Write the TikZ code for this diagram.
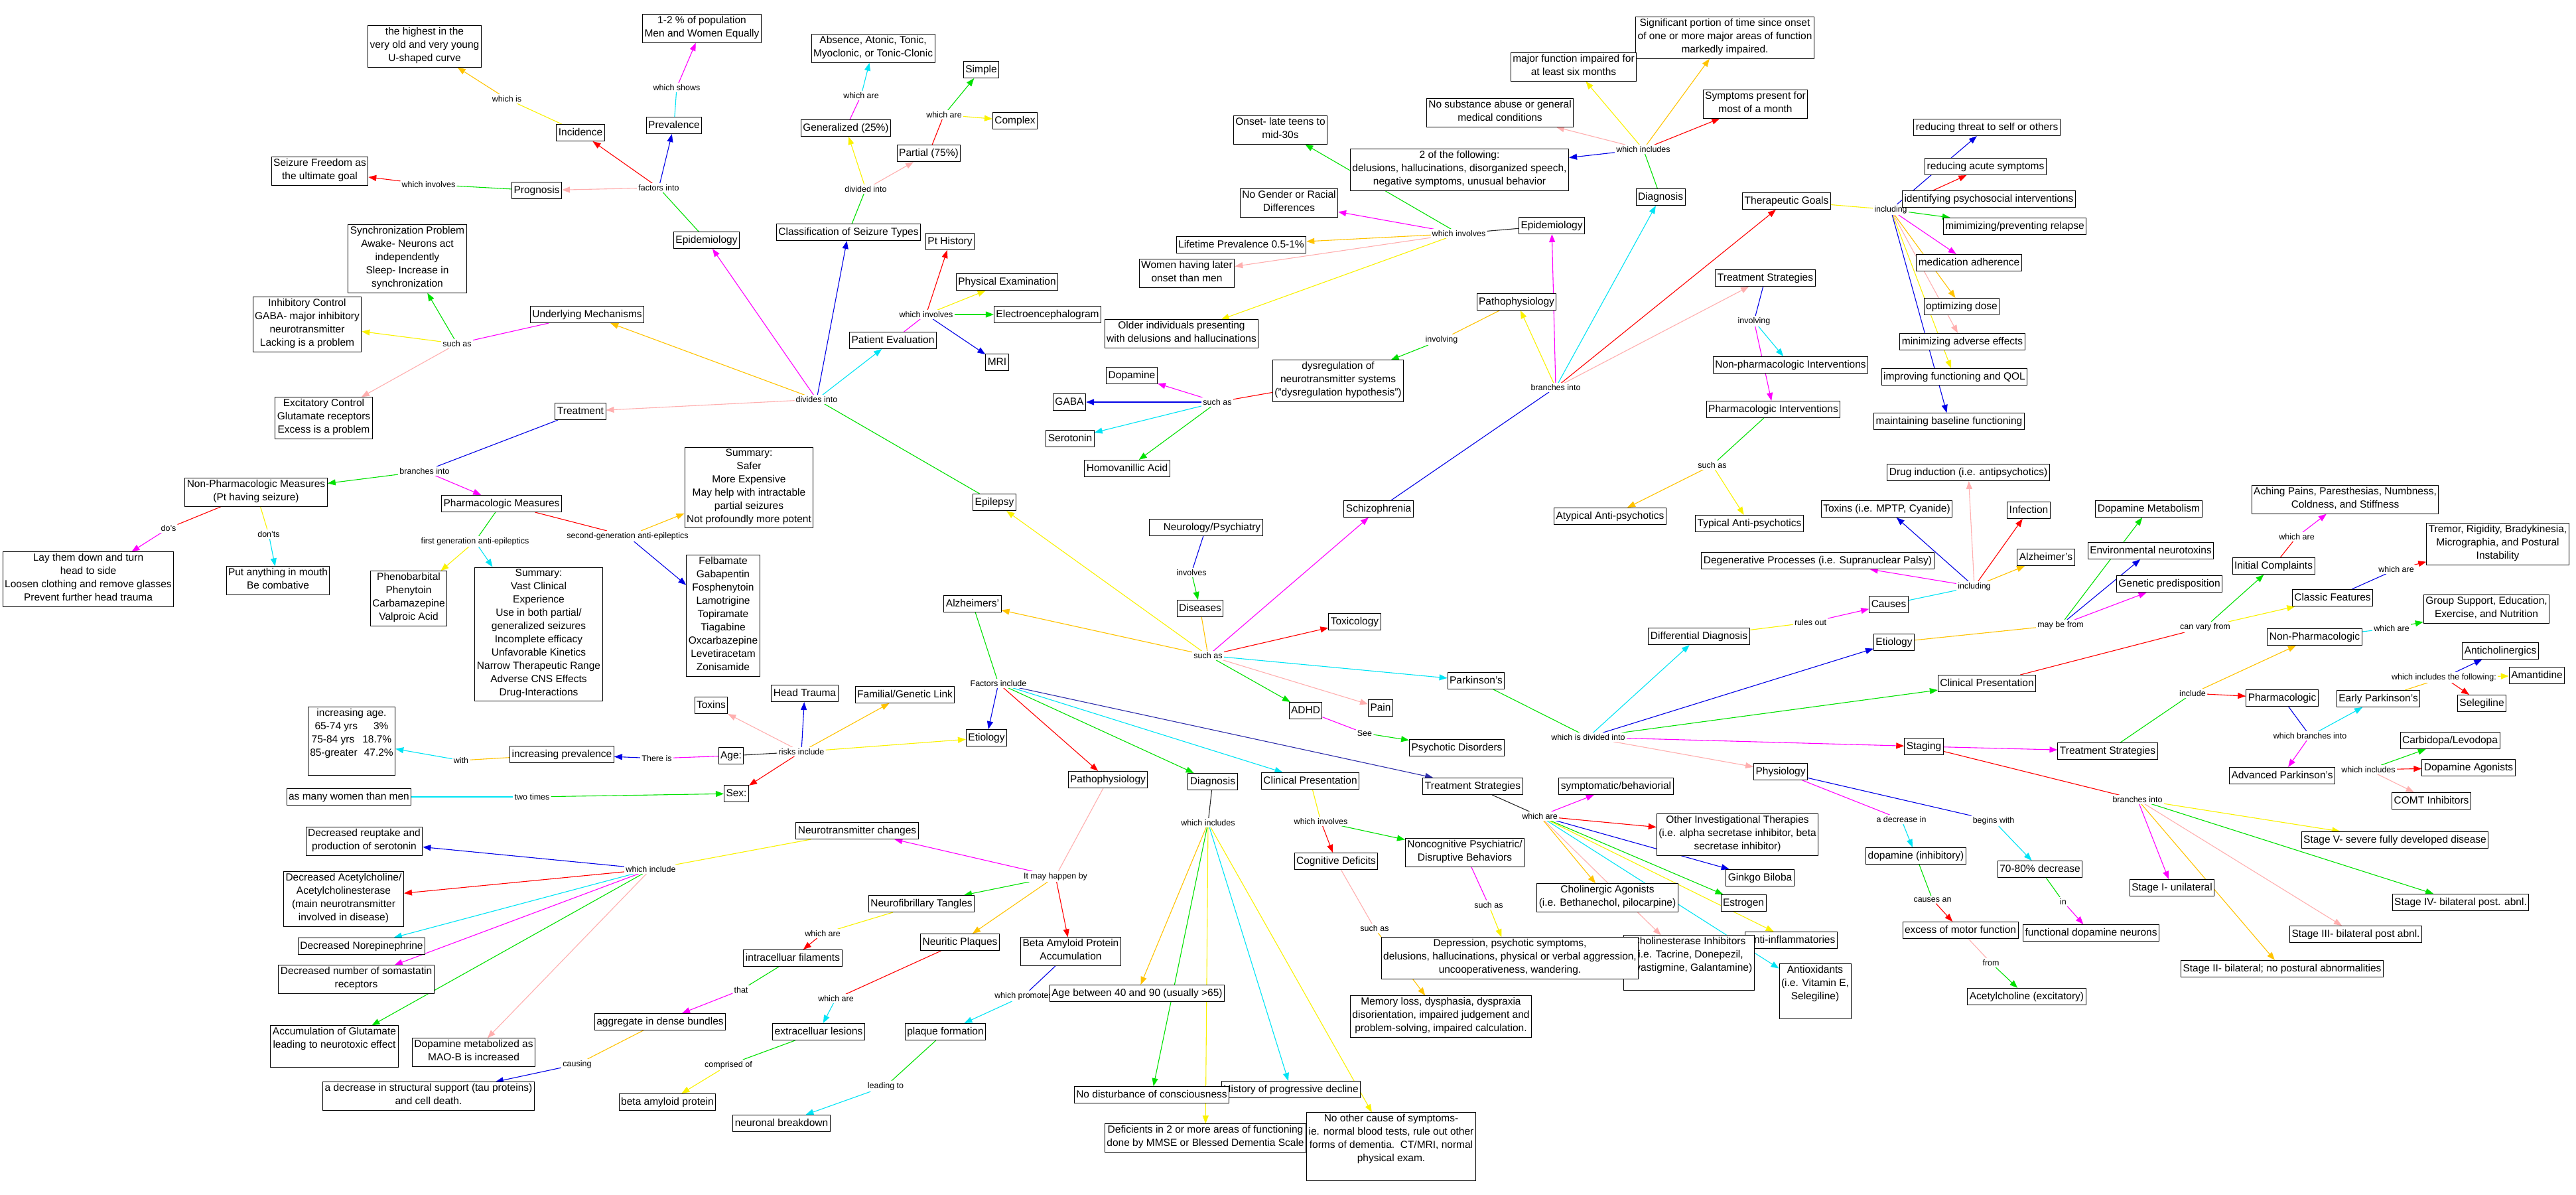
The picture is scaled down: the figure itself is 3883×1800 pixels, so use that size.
\documentclass[tikz,border=0pt]{standalone}
\usepackage{fontspec}
\setmainfont{Liberation Sans}
\usetikzlibrary{arrows.meta}
\pgfdeclarelayer{back}\pgfdeclarelayer{bg}
\pgfsetlayers{back,bg,main}
\newcommand\fsbox{\fontsize{15.5}{20}\selectfont}
\newcommand\fslab{\fontsize{12.5}{14}\selectfont}
\definecolor{cR}{RGB}{255,0,0}
\definecolor{cG}{RGB}{0,225,0}
\definecolor{cB}{RGB}{0,0,230}
\definecolor{cNv}{RGB}{45,45,170}
\definecolor{cC}{RGB}{0,228,245}
\definecolor{cM}{RGB}{255,0,255}
\definecolor{cY}{RGB}{250,242,0}
\definecolor{cO}{RGB}{255,195,0}
\definecolor{cP}{RGB}{255,175,175}
\definecolor{cK}{RGB}{40,40,40}
\begin{document}
\begin{tikzpicture}[x=1pt,y=-1pt,
 bx/.style={draw=black,line width=1pt,fill=white,align=center,font=\fsbox,inner xsep=3pt,inner ysep=2.5pt,execute at begin node=\strut,execute at end node=\strut},
 lb/.style={font=\fslab,inner sep=2pt,fill=white},
 ln/.style={draw=#1,line width=1.1pt},
 ar/.style={draw=#1,line width=1.1pt,-{Triangle[length=12pt,width=9pt]}}]
\begin{pgfonlayer}{back}
\fill[white] (0,0) rectangle (3883,1800);
\end{pgfonlayer}
\useasboundingbox (0,0) rectangle (3883,1800);
% ---------- labels ----------
\node[lb] (lWhichIs) at (764,149) {which is};
\node[lb] (lFact) at (993,283) {factors into};
\node[lb] (lShows) at (1020,132) {which shows};
\node[lb] (lGenAre) at (1298,144) {which are};
\node[lb] (lPartAre) at (1423,173) {which are};
\node[lb] (lDivided) at (1305,285) {divided into};
\node[lb] (lProgInv) at (646,278) {which involves};
\node[lb] (lPevInv) at (1396,474) {which involves};
\node[lb] (lUndSuch) at (689,518) {such as};
\node[lb] (lDivides) at (1231,602) {divides into};
\node[lb] (lTrtBr) at (640,710) {branches into};
\node[lb] (lDos) at (254,796) {do's};
\node[lb] (lDonts) at (405,805) {don'ts};
\node[lb] (lFirst) at (716,816) {first generation anti-epileptics};
\node[lb] (lSecond) at (946,808) {second-generation anti-epileptics};
\node[lb] (lDysSuch) at (1835,606) {such as};
\node[lb] (lEpiSInv) at (2199,352) {which involves};
\node[lb] (lDiagSInc) at (2477,225) {which includes};
\node[lb] (lIncl) at (2850,316) {including};
\node[lb] (lPatSInv) at (2173,512) {involving};
\node[lb] (lTsSInv) at (2644,484) {involving};
\node[lb] (lSchBr) at (2345,584) {branches into};
\node[lb] (lPhiSuch) at (2581,701) {such as};
\node[lb] (lInvolves) at (1796,863) {involves};
\node[lb] (lDisSuch) at (1821,988) {such as};
\node[lb] (lFactInc) at (1505,1030) {Factors include};
\node[lb] (lRisks) at (1208,1133) {risks include};
\node[lb] (lThere) at (990,1143) {There is};
\node[lb] (lWith) at (695,1146) {with};
\node[lb] (lTwo) at (802,1201) {two times};
\node[lb] (lSee) at (2057,1105) {See};
\node[lb] (lDivInto) at (2394,1111) {which is divided into};
\node[lb] (lRules) at (2729,938) {rules out};
\node[lb] (lCausInc) at (2976,884) {including};
\node[lb] (lMay) at (3106,942) {may be from};
\node[lb] (lVary) at (3324,945) {can vary from};
\node[lb] (lInitAre) at (3462,809) {which are};
\node[lb] (lClasAre) at (3612,858) {which are};
\node[lb] (lNpAre) at (3605,947) {which are};
\node[lb] (lFollow) at (3684,1021) {which includes the following:};
\node[lb] (lInclude) at (3305,1045) {include};
\node[lb] (lWBr) at (3482,1109) {which branches into};
\node[lb] (lAdvInc) at (3570,1160) {which includes};
\node[lb] (lNtcInc) at (981,1310) {which include};
\node[lb] (lMay2) at (1591,1321) {It may happen by};
\node[lb] (lNftAre) at (1240,1407) {which are};
\node[lb] (lThat) at (1117,1492) {that};
\node[lb] (lNpAre2) at (1260,1505) {which are};
\node[lb] (lProm) at (1543,1501) {which promotes};
\node[lb] (lCaus) at (870,1604) {causing};
\node[lb] (lComp) at (1098,1605) {comprised of};
\node[lb] (lLead) at (1335,1637) {leading to};
\node[lb] (lDiagAInc) at (1821,1240) {which includes};
\node[lb] (lCpAInv) at (1991,1238) {which involves};
\node[lb] (lTsAAre) at (2321,1230) {which are};
\node[lb] (lNcogSuch) at (2244,1364) {such as};
\node[lb] (lCogSuch) at (2072,1399) {such as};
\node[lb] (lDecIn) at (2866,1235) {a decrease in};
\node[lb] (lBegins) at (3005,1237) {begins with};
\node[lb] (lCauses) at (2913,1356) {causes an};
\node[lb] (lFrom) at (3001,1451) {from};
\node[lb] (lIn) at (3110,1359) {in};
\node[lb] (lStBr) at (3222,1205) {branches into};
% ---------- Epilepsy boxes ----------
\node[bx] (hi) at (640,70) {the highest in the\\very old and very young\\U-shaped curve};
\node[bx] (pop) at (1058,43) {1-2 \% of population\\Men and Women Equally};
\node[bx] (absn) at (1316,73) {Absence, Atonic, Tonic,\\Myoclonic, or Tonic-Clonic};
\node[bx] (simp) at (1479,105) {Simple};
\node[bx] (cplx) at (1530,182) {Complex};
\node[bx] (gen) at (1275,193) {Generalized (25\%)};
\node[bx] (part) at (1400,231) {Partial (75\%)};
\node[bx] (inc) at (875,200) {Incidence};
\node[bx] (prev) at (1016,189) {Prevalence};
\node[bx] (szf) at (482,258) {Seizure Freedom as\\the ultimate goal};
\node[bx] (prog) at (809,287) {Prognosis};
\node[bx] (epiE) at (1065,362) {Epidemiology};
\node[bx] (cls) at (1279,350) {Classification of Seizure Types};
\node[bx] (pth) at (1432,364) {Pt History};
\node[bx] (phx) at (1518,425) {Physical Examination};
\node[bx] (eeg) at (1579,474) {Electroencephalogram};
\node[bx] (pev) at (1346,513) {Patient Evaluation};
\node[bx] (mri) at (1503,546) {MRI};
\node[bx] (syn) at (614,390) {Synchronization Problem\\Awake- Neurons act\\independently\\Sleep- Increase in\\synchronization};
\node[bx] (inh) at (463,489) {Inhibitory Control\\GABA- major inhibitory\\neurotransmitter\\Lacking is a problem};
\node[bx] (und) at (885,474) {Underlying Mechanisms};
\node[bx] (exc) at (488,630) {Excitatory Control\\Glutamate receptors\\Excess is a problem};
\node[bx] (trt) at (875,620) {Treatment};
\node[bx] (npm) at (386,742) {Non-Pharmacologic Measures\\(Pt having seizure)};
\node[bx] (pm) at (756,759) {Pharmacologic Measures};
\node[bx] (lay) at (133,873) {Lay them down and turn\\head to side\\Loosen clothing and remove glasses\\Prevent further head trauma};
\node[bx] (put) at (419,875) {Put anything in mouth\\Be combative};
\node[bx] (phen) at (616,902) {Phenobarbital\\Phenytoin\\Carbamazepine\\Valproic Acid};
\node[bx] (sumv) at (812,956) {Summary:\\Vast Clinical\\Experience\\Use in both partial/\\generalized seizures\\Incomplete efficacy\\Unfavorable Kinetics\\Narrow Therapeutic Range\\Adverse CNS Effects\\Drug-Interactions};
\node[bx] (sums) at (1129,735) {Summary:\\Safer\\More Expensive\\May help with intractable\\partial seizures\\Not profoundly more potent};
\node[bx] (felb) at (1090,928) {Felbamate\\Gabapentin\\Fosphenytoin\\Lamotrigine\\Topiramate\\Tiagabine\\Oxcarbazepine\\Levetiracetam\\Zonisamide};
\node[bx] (epil) at (1499,757) {Epilepsy};
% ---------- centre ----------
\node[bx] (neu) at (1818,795) {\hspace*{18pt}Neurology/Psychiatry};
\node[bx] (dis) at (1809,917) {Diseases};
\node[bx] (alz) at (1466,910) {Alzheimers'};
\node[bx] (sch) at (2078,767) {Schizophrenia};
\node[bx] (tox) at (2042,937) {Toxicology};
\node[bx] (park) at (2225,1026) {Parkinson's};
\node[bx] (pain) at (2081,1067) {Pain};
\node[bx] (adhd) at (1968,1071) {ADHD};
\node[bx] (psy) at (2196,1127) {Psychotic Disorders};
% ---------- Schizophrenia ----------
\node[bx] (onset) at (1930,196) {Onset- late teens to\\mid-30s};
\node[bx] (nogen) at (1943,306) {No Gender or Racial\\Differences};
\node[bx] (life) at (1871,369) {Lifetime Prevalence 0.5-1\%};
\node[bx] (women) at (1789,412) {Women having later\\onset than men};
\node[bx] (older) at (1781,503) {Older individuals presenting\\with delusions and hallucinations};
\node[bx] (dopa) at (1706,566) {Dopamine};
\node[bx] (gaba) at (1612,606) {GABA};
\node[bx] (sero) at (1613,661) {Serotonin};
\node[bx] (hva) at (1699,706) {Homovanillic Acid};
\node[bx] (dysr) at (2017,574) {dysregulation of\\neurotransmitter systems\\("dysregulation hypothesis")};
\node[bx] (sig) at (2600,57) {Significant portion of time since onset\\of one or more major areas of function\\markedly impaired.};
\node[bx] (majf) at (2372,101) {major function impaired for\\at least six months};
\node[bx] (nosub) at (2261,170) {No substance abuse or general\\medical conditions};
\node[bx] (symp) at (2646,157) {Symptoms present for\\most of a month};
\node[bx] (twoof) at (2200,256) {2 of the following:\\delusions, hallucinations, disorganized speech,\\negative symptoms, unusual behavior};
\node[bx] (diagS) at (2503,297) {Diagnosis};
\node[bx] (tg) at (2693,303) {Therapeutic Goals};
\node[bx] (epiS) at (2339,340) {Epidemiology};
\node[bx] (tsS) at (2661,419) {Treatment Strategies};
\node[bx] (patS) at (2286,455) {Pathophysiology};
\node[bx] (npi) at (2699,550) {Non-pharmacologic Interventions};
\node[bx] (phi) at (2673,617) {Pharmacologic Interventions};
\node[bx] (atyp) at (2427,778) {Atypical Anti-psychotics};
\node[bx] (typ) at (2637,789) {Typical Anti-psychotics};
\node[bx] (rthr) at (2995,192) {reducing threat to self or others};
\node[bx] (racu) at (2993,251) {reducing acute symptoms};
\node[bx] (ident) at (2998,300) {identifying psychosocial interventions};
\node[bx] (mrel) at (3037,341) {mimimizing/preventing relapse};
\node[bx] (madh) at (2968,396) {medication adherence};
\node[bx] (odose) at (2957,462) {optimizing dose};
\node[bx] (madv) at (2958,515) {minimizing adverse effects};
\node[bx] (qol) at (2946,568) {improving functioning and QOL};
\node[bx] (mbase) at (2938,635) {maintaining baseline functioning};
% ---------- Parkinson's ----------
\node[bx] (toxP) at (2844,767) {Toxins (i.e. MPTP, Cyanide)};
\node[bx] (degP) at (2740,845) {Degenerative Processes (i.e. Supranuclear Palsy)};
\node[bx] (drugP) at (2967,712) {Drug induction (i.e. antipsychotics)};
\node[bx] (infP) at (3058,769) {Infection};
\node[bx] (alzP) at (3084,840) {Alzheimer's};
\node[bx] (dmet) at (3239,767) {Dopamine Metabolism};
\node[bx] (envn) at (3242,830) {Environmental neurotoxins};
\node[bx] (genp) at (3270,880) {Genetic predisposition};
\node[bx] (ddx) at (2561,959) {Differential Diagnosis};
\node[bx] (causes) at (2847,911) {Causes};
\node[bx] (etP) at (2855,968) {Etiology};
\node[bx] (cpP) at (2995,1030) {Clinical Presentation};
\node[bx] (ache) at (3535,753) {Aching Pains, Paresthesias, Numbness,\\Coldness, and Stiffness};
\node[bx] (initc) at (3427,853) {Initial Complaints};
\node[bx] (trem) at (3765,820) {Tremor, Rigidity, Bradykinesia,\\Micrographia, and Postural\\Instability};
\node[bx] (clas) at (3516,901) {Classic Features};
\node[bx] (grp) at (3748,918) {Group Support, Education,\\Exercise, and Nutrition};
\node[bx] (npP) at (3489,960) {Non-Pharmacologic};
\node[bx] (antic) at (3769,981) {Anticholinergics};
\node[bx] (amant) at (3824,1018) {Amantidine};
\node[bx] (seleg) at (3741,1060) {Selegiline};
\node[bx] (phP) at (3440,1052) {Pharmacologic};
\node[bx] (early) at (3585,1053) {Early Parkinson's};
\node[bx] (carb) at (3693,1116) {Carbidopa/Levodopa};
\node[bx] (tsP) at (3177,1132) {Treatment Strategies};
\node[bx] (dago) at (3721,1157) {Dopamine Agonists};
\node[bx] (adv) at (3440,1169) {Advanced Parkinson's};
\node[bx] (comt) at (3665,1207) {COMT Inhibitors};
\node[bx] (stag) at (2900,1125) {Staging};
\node[bx] (phys) at (2684,1163) {Physiology};
\node[bx] (dopi) at (2888,1290) {dopamine (inhibitory)};
\node[bx] (exm) at (2955,1402) {excess of motor function};
\node[bx] (ach) at (3055,1502) {Acetylcholine (excitatory)};
\node[bx] (dec) at (3075,1310) {70-80\% decrease};
\node[bx] (fdn) at (3152,1406) {functional dopamine neurons};
\node[bx] (st5) at (3610,1266) {Stage V- severe fully developed disease};
\node[bx] (st1) at (3274,1338) {Stage I- unilateral};
\node[bx] (st4) at (3709,1360) {Stage IV- bilateral post. abnl.};
\node[bx] (st3) at (3551,1408) {Stage III- bilateral post abnl.};
\node[bx] (st2) at (3440,1460) {Stage II- bilateral; no postural abnormalities};
% ---------- Alzheimer's ----------
\node[bx] (toxA) at (1072,1063) {Toxins};
\node[bx] (htr) at (1213,1045) {Head Trauma};
\node[bx] (fam) at (1364,1047) {Familial/Genetic Link};
\node[bx] (etA) at (1487,1112) {Etiology};
\node[bx] (age) at (1102,1139) {Age:};
\node[bx] (sex) at (1110,1196) {Sex:};
\node[bx] (incp) at (847,1137) {increasing prevalence};
\node[bx] (incage) at (530,1117) {increasing age.\\65-74 yrs\hspace{24pt}3\%\\75-84 yrs\hspace{12pt}18.7\%\\85-greater\hspace{10pt}47.2\%\\};
\node[bx] (women2) at (526,1201) {as many women than men};
\node[bx] (patA) at (1670,1175) {Pathophysiology};
\node[bx] (diagA) at (1828,1178) {Diagnosis};
\node[bx] (cpA) at (1975,1177) {Clinical Presentation};
\node[bx] (tsA) at (2220,1185) {Treatment Strategies};
\node[bx] (symb) at (2436,1185) {symptomatic/behaviorial};
\node[bx] (ntc) at (1292,1252) {Neurotransmitter changes};
\node[bx] (dre) at (549,1268) {Decreased reuptake and\\production of serotonin};
\node[bx] (dach) at (518,1355) {Decreased Acetylcholine/\\Acetylcholinesterase\\(main neurotransmitter\\involved in disease)};
\node[bx] (dnor) at (545,1426) {Decreased Norepinephrine};
\node[bx] (dsom) at (537,1476) {Decreased number of somastatin\\receptors};
\node[bx] (glu) at (504,1577) {Accumulation of Glutamate\\leading to neurotoxic effect\\};
\node[bx] (dmao) at (714,1586) {Dopamine metabolized as\\MAO-B is increased};
\node[bx] (agg) at (995,1540) {aggregate in dense bundles};
\node[bx] (dstr) at (646,1652) {a decrease in structural support (tau proteins)\\and cell death.};
\node[bx] (bap) at (1006,1661) {beta amyloid protein};
\node[bx] (nft) at (1389,1362) {Neurofibrillary Tangles};
\node[bx] (icf) at (1195,1444) {intracelluar filaments};
\node[bx] (np) at (1447,1420) {Neuritic Plaques};
\node[bx] (bapa) at (1614,1434) {Beta Amyloid Protein\\Accumulation};
\node[bx] (ecl) at (1234,1555) {extracelluar lesions};
\node[bx] (plq) at (1425,1555) {plaque formation};
\node[bx] (nbd) at (1178,1693) {neuronal breakdown};
\node[bx] (agebt) at (1714,1497) {Age between 40 and 90 (usually >65)};
\node[bx] (hist) at (1946,1642) {History of progressive decline};
\node[bx] (nodist) at (1736,1650) {No disturbance of consciousness};
\node[bx] (defi) at (1817,1715) {Deficients in 2 or more areas of functioning\\done by MMSE or Blessed Dementia Scale};
\node[bx] (noth) at (2097,1728) {No other cause of symptoms-\\ie. normal blood tests, rule out other\\forms of dementia.\ \ CT/MRI, normal\\physical exam.\\};
\node[bx] (cogd) at (2014,1298) {Cognitive Deficits};
\node[bx] (ncog) at (2208,1285) {Noncognitive Psychiatric/\\Disruptive Behaviors};
\node[bx] (oith) at (2619,1258) {Other Investigational Therapies\\(i.e. alpha secretase inhibitor, beta\\secretase inhibitor)};
\node[bx] (ginkgo) at (2653,1323) {Ginkgo Biloba};
\node[bx] (estr) at (2628,1361) {Estrogen};
\node[bx] (chag) at (2423,1353) {Cholinergic Agonists\\(i.e. Bethanechol, pilocarpine)};
\node[bx] (antiinf) at (2700,1417) {Anti-inflammatories};
\node[bx] (chin) at (2546,1451) {Cholinesterase Inhibitors\\(i.e. Tacrine, Donepezil,\\Rivastigmine, Galantamine)\\};
\node[bx] (depr) at (2276,1444) {Depression, psychotic symptoms,\\delusions, hallucinations, physical or verbal aggression,\\uncooperativeness, wandering.};
\node[bx] (antiox) at (2736,1494) {Antioxidants\\(i.e. Vitamin E,\\Selegiline)\\};
\node[bx] (mem) at (2172,1532) {Memory loss, dysphasia, dyspraxia\\disorientation, impaired judgement and\\problem-solving, impaired calculation.};
% ---------- connectors ----------
\begin{pgfonlayer}{bg}
% epilepsy
\draw[ln=cG] (epil) -- (lDivides);
\draw[ar=cM] (lDivides) -- (epiE);
\draw[ar=cB] (lDivides) -- (cls);
\draw[ar=cC] (lDivides) -- (pev);
\draw[ar=cO] (lDivides) -- (und);
\draw[ar=cP] (lDivides) -- (trt);
\draw[ln=cG] (epiE) -- (lFact);
\draw[ar=cR] (lFact) -- (inc);
\draw[ar=cB] (lFact) -- (prev);
\draw[ar=cP] (lFact) -- (prog);
\draw[ln=cY] (inc) -- (lWhichIs);
\draw[ar=cO] (lWhichIs) -- (hi);
\draw[ln=cC] (prev) -- (lShows);
\draw[ar=cM] (lShows) -- (pop);
\draw[ln=cG] (prog) -- (lProgInv);
\draw[ar=cR] (lProgInv) -- (szf);
\draw[ln=cG] (cls) -- (lDivided);
\draw[ar=cY] (lDivided) -- (gen);
\draw[ar=cP] (lDivided) -- (part);
\draw[ln=cM] (gen) -- (lGenAre);
\draw[ar=cC] (lGenAre) -- (absn);
\draw[ln=cR] (part) -- (lPartAre);
\draw[ar=cG] (lPartAre) -- (simp);
\draw[ar=cY] (lPartAre) -- (cplx);
\draw[ln=cM] (pev) -- (lPevInv);
\draw[ar=cR] (lPevInv) -- (pth);
\draw[ar=cY] (lPevInv) -- (phx);
\draw[ar=cG] (lPevInv) -- (eeg);
\draw[ar=cB] (lPevInv) -- (mri);
\draw[ln=cM] (und) -- (lUndSuch);
\draw[ar=cG] (lUndSuch) -- (syn);
\draw[ar=cY] (lUndSuch) -- (inh);
\draw[ar=cP] (lUndSuch) -- (exc);
\draw[ln=cB] (trt) -- (lTrtBr);
\draw[ar=cG] (lTrtBr) -- (npm);
\draw[ar=cM] (lTrtBr) -- (pm);
\draw[ln=cR] (npm) -- (lDos);
\draw[ar=cM] (lDos) -- (lay);
\draw[ln=cY] (npm) -- (lDonts);
\draw[ar=cC] (lDonts) -- (put);
\draw[ln=cG] (pm) -- (lFirst);
\draw[ar=cY] (lFirst) -- (phen);
\draw[ar=cC] (lFirst) -- (sumv);
\draw[ln=cR] (pm) -- (lSecond);
\draw[ar=cO] (lSecond) -- (sums);
\draw[ar=cB] (lSecond) -- (felb);
% centre
\draw[ln=cB] (neu) -- (lInvolves);
\draw[ar=cG] (lInvolves) -- (dis);
\draw[ln=cO] (dis) -- (lDisSuch);
\draw[ar=cY] (lDisSuch) -- (epil);
\draw[ar=cO] (lDisSuch) -- (alz);
\draw[ar=cM] (lDisSuch) -- (sch);
\draw[ar=cR] (lDisSuch) -- (tox);
\draw[ar=cC] (lDisSuch) -- (park);
\draw[ar=cP] (lDisSuch) -- (pain);
\draw[ar=cG] (lDisSuch) -- (adhd);
\draw[ln=cM] (adhd) -- (lSee);
\draw[ar=cG] (lSee) -- (psy);
% schizophrenia
\draw[ln=cB] (sch) -- (lSchBr);
\draw[ar=cY] (lSchBr) -- (patS);
\draw[ar=cM] (lSchBr) -- (epiS);
\draw[ar=cC] (lSchBr) -- (diagS);
\draw[ar=cR] (lSchBr) -- (tg);
\draw[ar=cP] (lSchBr) -- (tsS);
\draw[ln=cO] (patS) -- (lPatSInv);
\draw[ar=cG] (lPatSInv) -- (dysr);
\draw[ln=cR] (dysr) -- (lDysSuch);
\draw[ar=cM] (lDysSuch) -- (dopa);
\draw[ar=cB] (lDysSuch) -- (gaba);
\draw[ar=cC] (lDysSuch) -- (sero);
\draw[ar=cG] (lDysSuch) -- (hva);
\draw[ln=cK] (epiS) -- (lEpiSInv);
\draw[ar=cG] (lEpiSInv) -- (onset);
\draw[ar=cM] (lEpiSInv) -- (nogen);
\draw[ar=cO] (lEpiSInv) -- (life);
\draw[ar=cP] (lEpiSInv) -- (women);
\draw[ar=cY] (lEpiSInv) -- (older);
\draw[ln=cG] (diagS) -- (lDiagSInc);
\draw[ar=cB] (lDiagSInc) -- (twoof);
\draw[ar=cP] (lDiagSInc) -- (nosub);
\draw[ar=cY] (lDiagSInc) -- (majf);
\draw[ar=cO] (lDiagSInc) -- (sig);
\draw[ar=cR] (lDiagSInc) -- (symp);
\draw[ln=cY] (tg) -- (lIncl);
\draw[ar=cB] (lIncl) -- (rthr);
\draw[ar=cR] (lIncl) -- (racu);
\draw[ar=cG] (lIncl) -- (mrel);
\draw[ar=cM] (lIncl) -- (madh);
\draw[ar=cO] (lIncl) -- (odose);
\draw[ar=cP] (lIncl) -- (madv);
\draw[ar=cY] (lIncl) -- (qol);
\draw[ar=cB] (lIncl) -- (mbase);
\draw[ln=cB] (tsS) -- (lTsSInv);
\draw[ar=cC] (lTsSInv) -- (npi);
\draw[ar=cM] (lTsSInv) -- (phi);
\draw[ln=cG] (phi) -- (lPhiSuch);
\draw[ar=cO] (lPhiSuch) -- (atyp);
\draw[ar=cY] (lPhiSuch) -- (typ);
% parkinson's
\draw[ln=cG] (park) -- (lDivInto);
\draw[ar=cC] (lDivInto) -- (ddx);
\draw[ar=cB] (lDivInto) -- (etP);
\draw[ar=cG] (lDivInto) -- (cpP);
\draw[ln=cM,-{Triangle[length=12pt,width=9pt,color=cR]}] (lDivInto) -- (stag);
\draw[ar=cP] (lDivInto) -- (phys);
\draw[ln=cY] (ddx) -- (lRules);
\draw[ar=cM] (lRules) -- (causes);
\draw[ln=cC] (causes) -- (lCausInc);
\draw[ar=cB] (lCausInc) -- (toxP);
\draw[ar=cP] (lCausInc) -- (drugP);
\draw[ar=cR] (lCausInc) -- (infP);
\draw[ar=cO] (lCausInc) -- (alzP);
\draw[ar=cM] (lCausInc) -- (degP);
\draw[ln=cO] (etP) -- (lMay);
\draw[ar=cG] (lMay) -- (dmet);
\draw[ar=cB] (lMay) -- (envn);
\draw[ar=cM] (lMay) -- (genp);
\draw[ln=cR] (cpP) -- (lVary);
\draw[ar=cG] (lVary) -- (initc);
\draw[ar=cY] (lVary) -- (clas);
\draw[ln=cR] (initc) -- (lInitAre);
\draw[ar=cM] (lInitAre) -- (ache);
\draw[ln=cB] (clas) -- (lClasAre);
\draw[ar=cR] (lClasAre) -- (trem);
\draw[ln=cC] (npP) -- (lNpAre);
\draw[ar=cG] (lNpAre) -- (grp);
\draw[ar=cM] (stag) -- (tsP);
\draw[ln=cG] (tsP) -- (lInclude);
\draw[ar=cO] (lInclude) -- (npP);
\draw[ar=cR] (lInclude) -- (phP);
\draw[ln=cB] (phP) -- (lWBr);
\draw[ar=cC] (lWBr) -- (early);
\draw[ar=cM] (lWBr) -- (adv);
\draw[ln=cO] (early) -- (lFollow);
\draw[ar=cB] (lFollow) -- (antic);
\draw[ar=cY] (lFollow) -- (amant);
\draw[ar=cR] (lFollow) -- (seleg);
\draw[ar=cG] (lAdvInc) -- (carb);
\draw[ar=cR] (lAdvInc) -- (dago);
\draw[ar=cP] (lAdvInc) -- (comt);
\draw[ln=cR] (stag) -- (lStBr);
\draw[ar=cY] (lStBr) -- (st5);
\draw[ar=cM] (lStBr) -- (st1);
\draw[ar=cG] (lStBr) -- (st4);
\draw[ar=cP] (lStBr) -- (st3);
\draw[ar=cO] (lStBr) -- (st2);
\draw[ln=cM] (phys) -- (lDecIn);
\draw[ar=cC] (lDecIn) -- (dopi);
\draw[ln=cB] (phys) -- (lBegins);
\draw[ar=cC] (lBegins) -- (dec);
\draw[ln=cG] (dopi) -- (lCauses);
\draw[ar=cR] (lCauses) -- (exm);
\draw[ln=cP] (exm) -- (lFrom);
\draw[ar=cG] (lFrom) -- (ach);
\draw[ln=cG] (dec) -- (lIn);
\draw[ar=cM] (lIn) -- (fdn);
% alzheimer's
\draw[ln=cG] (alz) -- (lFactInc);
\draw[ar=cB] (lFactInc) -- (etA);
\draw[ar=cR] (lFactInc) -- (patA);
\draw[ar=cG] (lFactInc) -- (diagA);
\draw[ar=cC] (lFactInc) -- (cpA);
\draw[ar=cNv] (lFactInc) -- (tsA);
\draw[ln=cK] (age) -- (lRisks);
\draw[ar=cP] (lRisks) -- (toxA);
\draw[ar=cB] (lRisks) -- (htr);
\draw[ar=cO] (lRisks) -- (fam);
\draw[ar=cY] (lRisks) -- (etA);
\draw[ar=cR] (lRisks) -- (sex);
\draw[ln=cM] (age) -- (lThere);
\draw[ar=cB] (lThere) -- (incp);
\draw[ln=cO] (incp) -- (lWith);
\draw[ar=cC] (lWith) -- (incage);
\draw[ln=cC] (women2) -- (lTwo);
\draw[ar=cG] (lTwo) -- (sex);
\draw[ln=cP] (patA) -- (lMay2);
\draw[ar=cM] (lMay2) -- (ntc);
\draw[ar=cG] (lMay2) -- (nft);
\draw[ar=cO] (lMay2) -- (np);
\draw[ar=cR] (lMay2) -- (bapa);
\draw[ln=cY] (ntc) -- (lNtcInc);
\draw[ar=cB] (lNtcInc) -- (dre);
\draw[ar=cR] (lNtcInc) -- (dach);
\draw[ar=cC] (lNtcInc) -- (dnor);
\draw[ar=cM] (lNtcInc) -- (dsom);
\draw[ar=cG] (lNtcInc) -- (glu);
\draw[ar=cP] (lNtcInc) -- (dmao);
\draw[ln=cY] (nft) -- (lNftAre);
\draw[ar=cR] (lNftAre) -- (icf);
\draw[ln=cG] (icf) -- (lThat);
\draw[ar=cM] (lThat) -- (agg);
\draw[ln=cO] (agg) -- (lCaus);
\draw[ar=cB] (lCaus) -- (dstr);
\draw[ln=cR] (np) -- (lNpAre2);
\draw[ar=cC] (lNpAre2) -- (ecl);
\draw[ln=cG] (ecl) -- (lComp);
\draw[ar=cY] (lComp) -- (bap);
\draw[ln=cB] (bapa) -- (lProm);
\draw[ar=cC] (lProm) -- (plq);
\draw[ln=cG] (plq) -- (lLead);
\draw[ar=cC] (lLead) -- (nbd);
\draw[ln=cK] (diagA) -- (lDiagAInc);
\draw[ar=cO] (lDiagAInc) -- (agebt);
\draw[ar=cG] (lDiagAInc) -- (nodist);
\draw[ar=cY] (lDiagAInc) -- (defi);
\draw[ar=cC] (lDiagAInc) -- (hist);
\draw[ar=cY] (lDiagAInc) -- (noth);
\draw[ln=cY] (cpA) -- (lCpAInv);
\draw[ar=cR] (lCpAInv) -- (cogd);
\draw[ar=cG] (lCpAInv) -- (ncog);
\draw[ln=cP] (cogd) -- (lCogSuch);
\draw[ar=cO] (lCogSuch) -- (mem);
\draw[ln=cM] (ncog) -- (lNcogSuch);
\draw[ar=cY] (lNcogSuch) -- (depr);
\draw[ln=cK] (tsA) -- (lTsAAre);
\draw[ar=cM] (lTsAAre) -- (symb);
\draw[ar=cR] (lTsAAre) -- (oith);
\draw[ar=cB] (lTsAAre) -- (ginkgo);
\draw[ar=cG] (lTsAAre) -- (estr);
\draw[ar=cY] (lTsAAre) -- (antiinf);
\draw[ar=cC] (lTsAAre) -- (antiox);
\draw[ar=cP] (lTsAAre) -- (chin);
\draw[ar=cO] (lTsAAre) -- (chag);
\end{pgfonlayer}
\end{tikzpicture}
\end{document}
